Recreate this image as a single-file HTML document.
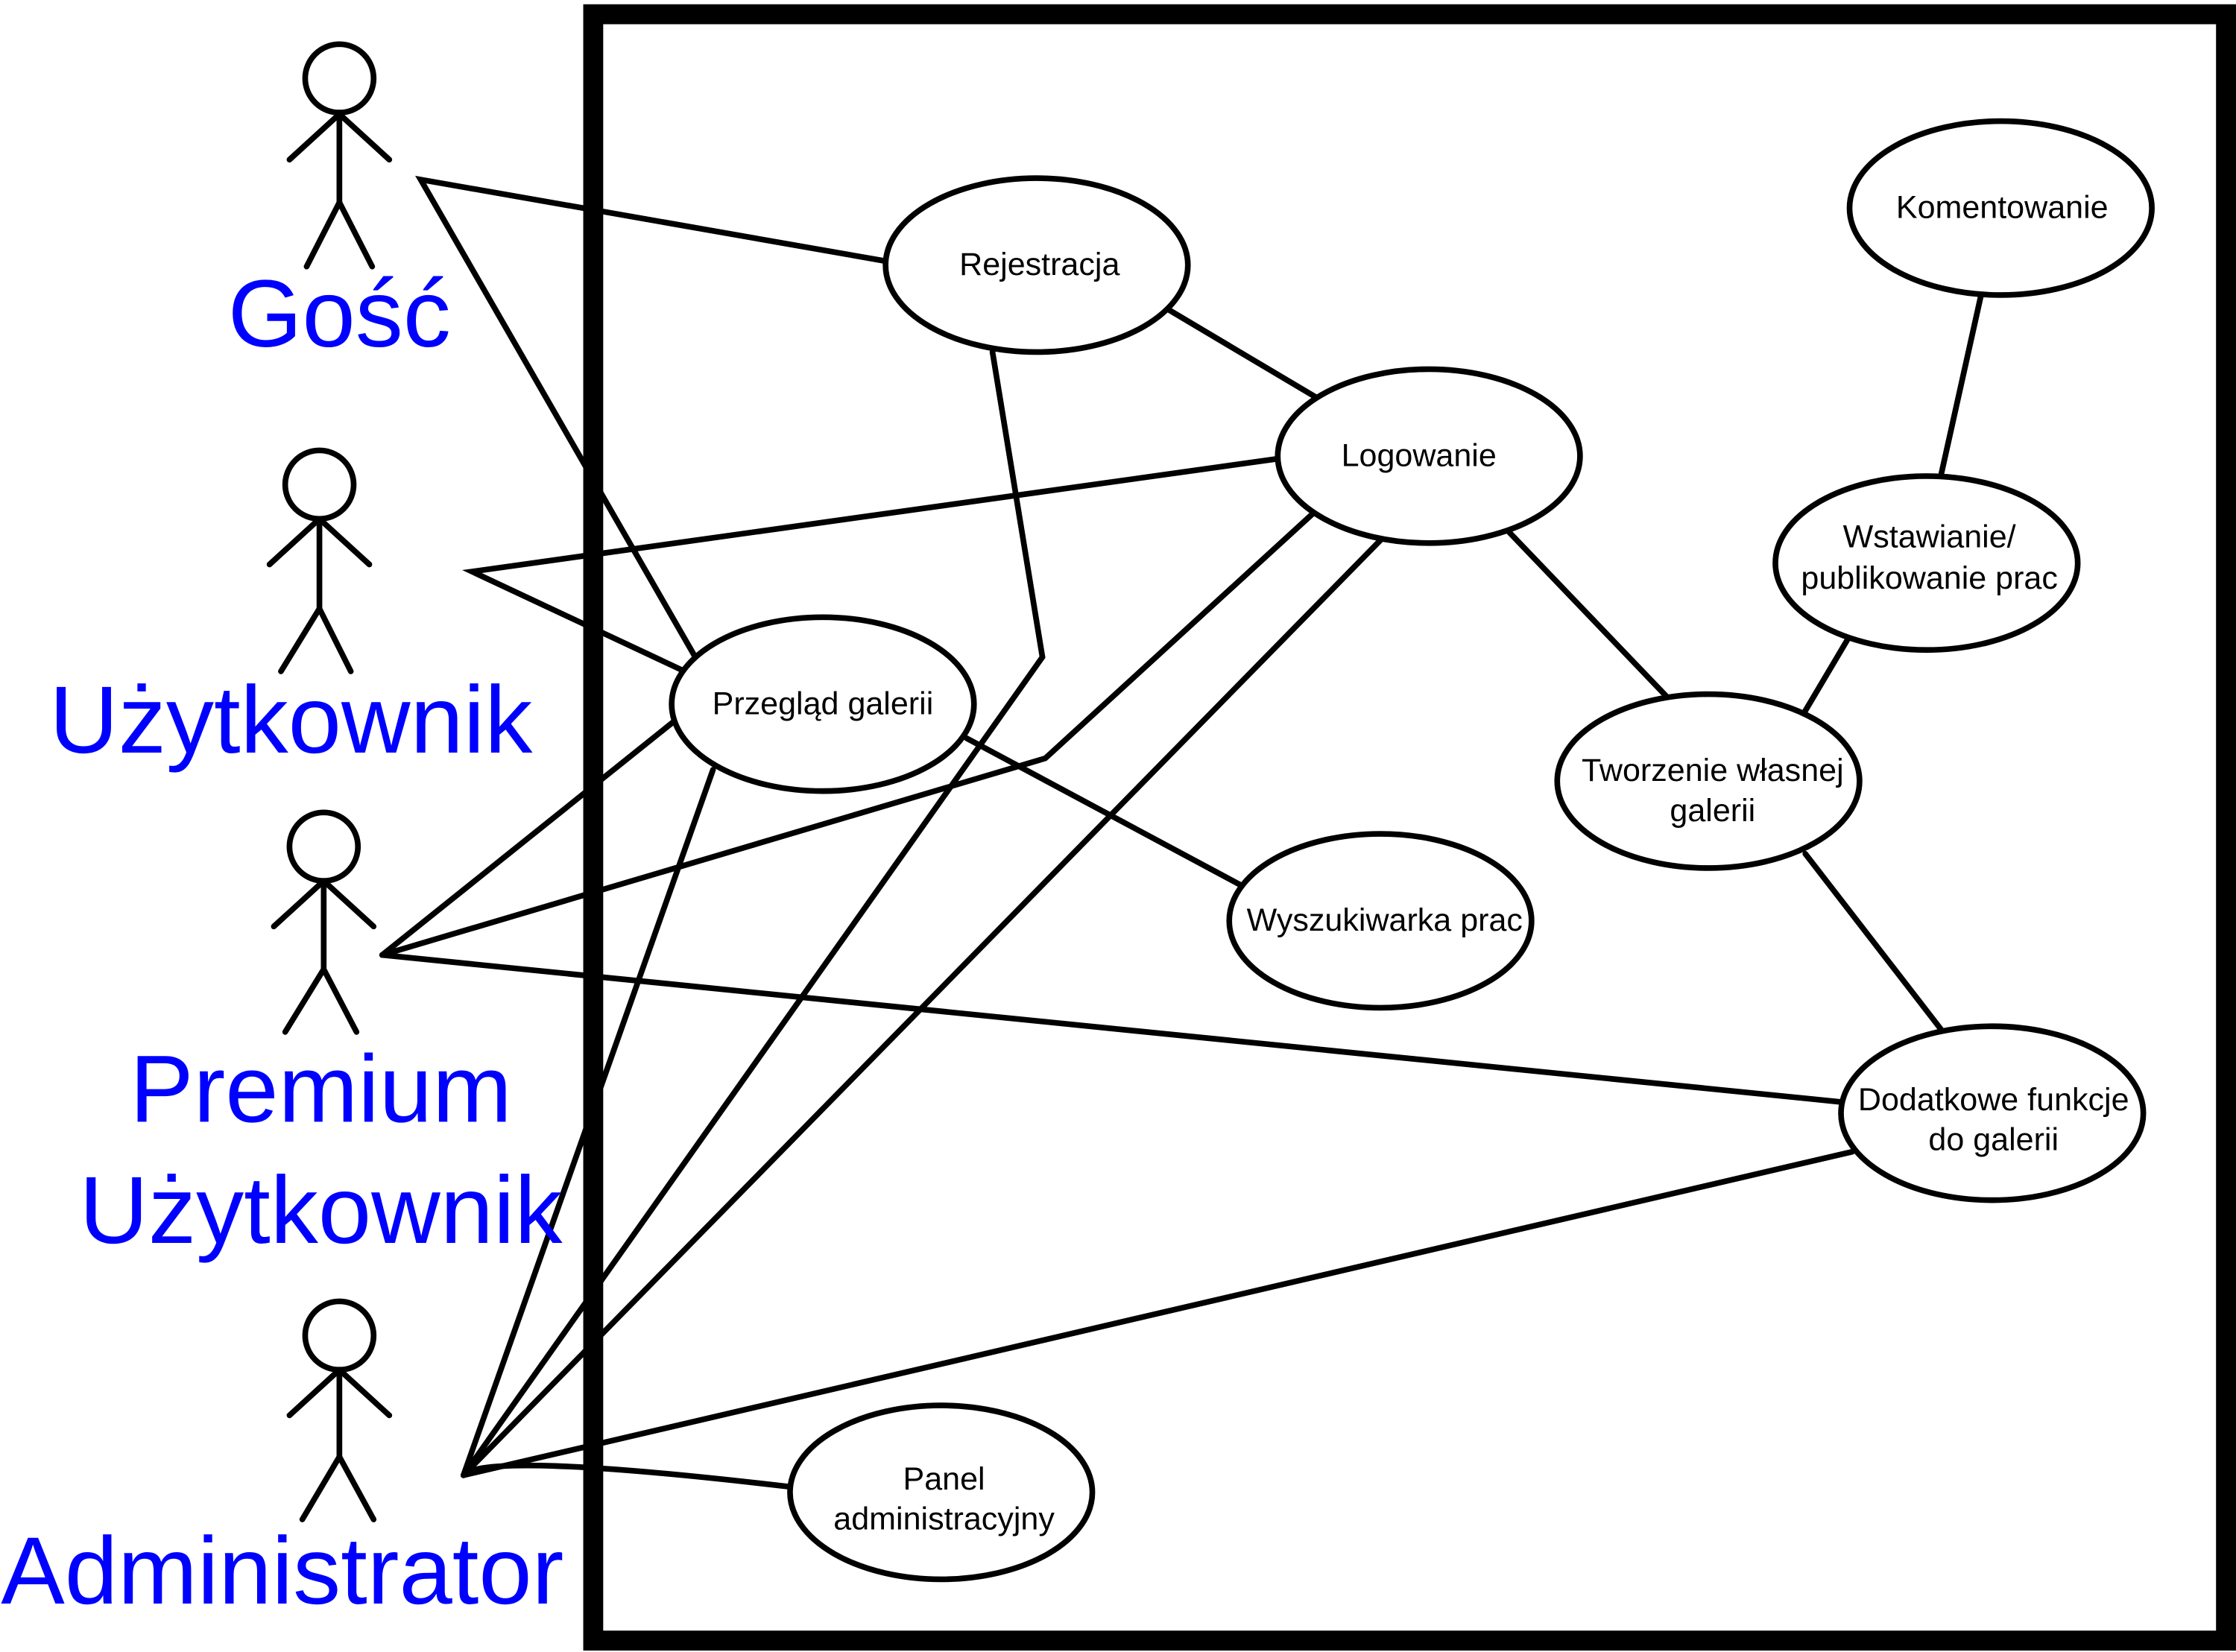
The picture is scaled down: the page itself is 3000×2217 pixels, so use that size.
<!DOCTYPE html>
<html><head><meta charset="utf-8"><style>
html,body{margin:0;padding:0;background:#fff;}
svg{display:block;}
</style></head><body>
<svg width="3000" height="2217" viewBox="0 0 1568 1159" preserveAspectRatio="none" xmlns="http://www.w3.org/2000/svg">
<rect width="1568" height="1159" fill="#fff"/>
<g stroke="#000" stroke-width="4" fill="none" stroke-linecap="round">
<circle cx="238" cy="55" r="24"/><line x1="238" y1="79" x2="238" y2="142"/><line x1="203" y1="112" x2="238" y2="80"/><line x1="273" y1="112" x2="238" y2="80"/><line x1="238" y1="142" x2="215" y2="187"/><line x1="238" y1="142" x2="261" y2="187"/>
<circle cx="224" cy="340" r="24"/><line x1="224" y1="364" x2="224" y2="427"/><line x1="189" y1="396" x2="224" y2="364"/><line x1="259" y1="396" x2="224" y2="364"/><line x1="224" y1="427" x2="197" y2="471"/><line x1="224" y1="427" x2="246" y2="471"/>
<circle cx="227" cy="594" r="24"/><line x1="227" y1="618" x2="227" y2="680"/><line x1="192" y1="650" x2="227" y2="618"/><line x1="262" y1="650" x2="227" y2="618"/><line x1="227" y1="680" x2="200" y2="724"/><line x1="227" y1="680" x2="250" y2="724"/>
<circle cx="238" cy="937" r="24"/><line x1="238" y1="961" x2="238" y2="1022"/><line x1="203" y1="993" x2="238" y2="961"/><line x1="273" y1="993" x2="238" y2="961"/><line x1="238" y1="1022" x2="212" y2="1066"/><line x1="238" y1="1022" x2="262" y2="1066"/>
<polyline points="620,183 295,126 487,460"/>
<polyline points="895,322 331,401 478,470"/>
<line x1="268" y1="670" x2="474" y2="505"/>
<polyline points="268,670 733,532 921,360"/>
<line x1="268" y1="670" x2="1290" y2="773"/>
<line x1="325" y1="1035" x2="500" y2="540"/>
<polyline points="325,1035 731,461 696,247"/>
<line x1="325" y1="1035" x2="969" y2="378"/>
<line x1="325" y1="1035" x2="1299" y2="808"/>
<path d="M325,1035 Q340,1018 553,1043"/>
<line x1="819" y1="217" x2="925" y2="280"/>
<line x1="1057" y1="372" x2="1170" y2="490"/>
<line x1="1389" y1="208" x2="1361" y2="334"/>
<line x1="1296" y1="448" x2="1264" y2="502"/>
<line x1="1266" y1="599" x2="1361" y2="722"/>
<line x1="678" y1="518" x2="872" y2="622"/>
</g>
<rect x="416" y="10" width="1145" height="1141" fill="none" stroke="#000" stroke-width="14"/>
<g stroke="#000" stroke-width="4" fill="#fff">
<ellipse cx="727" cy="186" rx="106" ry="61"/>
<ellipse cx="1002" cy="320" rx="106" ry="61"/>
<ellipse cx="1403" cy="146" rx="106" ry="61"/>
<ellipse cx="1351" cy="395" rx="106" ry="61"/>
<ellipse cx="577" cy="494" rx="106" ry="61"/>
<ellipse cx="1198" cy="548" rx="106" ry="61"/>
<ellipse cx="968" cy="646" rx="106" ry="61"/>
<ellipse cx="1397" cy="781" rx="106" ry="61"/>
<ellipse cx="660" cy="1047" rx="106" ry="61"/>
</g>
<g font-family="Liberation Sans, sans-serif" font-size="22.5" text-anchor="middle" fill="#000">
<text x="729" y="193">Rejestracja</text>
<text x="995" y="327">Logowanie</text>
<text x="1404" y="153">Komentowanie</text>
<text x="1353" y="384">Wstawianie/</text>
<text x="1353" y="413">publikowanie prac</text>
<text x="577" y="501">Przegląd galerii</text>
<text x="1201" y="548">Tworzenie własnej</text>
<text x="1201" y="576">galerii</text>
<text x="971" y="653">Wyszukiwarka prac</text>
<text x="1398" y="779">Dodatkowe funkcje</text>
<text x="1398" y="807">do galerii</text>
<text x="662" y="1045">Panel</text>
<text x="662" y="1073">administracyjny</text>
</g>
<g font-family="Liberation Sans, sans-serif" font-size="67" text-anchor="middle" fill="#0000ff">
<text x="238" y="243">Gość</text>
<text x="204" y="528">Użytkownik</text>
<text x="225" y="787">Premium</text>
<text x="225" y="872">Użytkownik</text>
<text x="198" y="1125">Administrator</text>
</g>
</svg>
</body></html>
